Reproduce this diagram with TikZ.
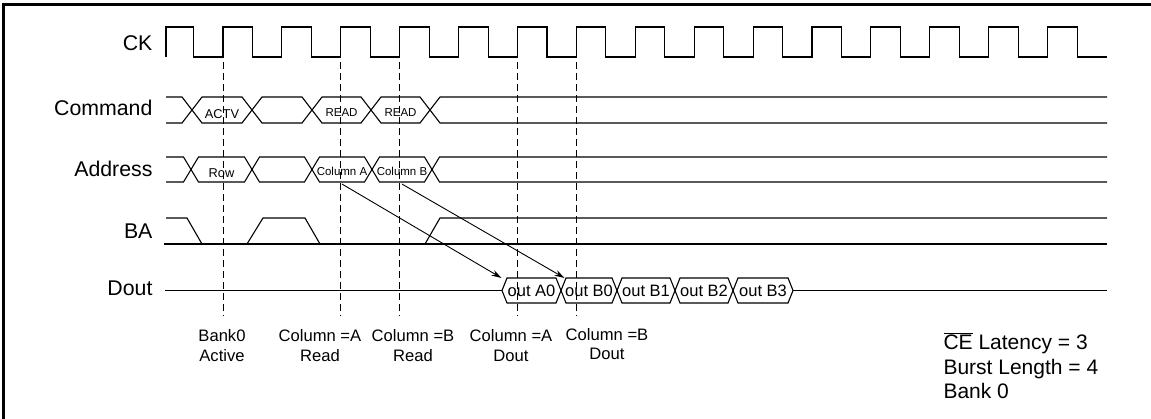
\documentclass[tikz,border=0pt]{standalone}
\usepackage{fontspec}
\setmainfont{Liberation Sans}
\usetikzlibrary{arrows.meta}

\begin{document}
\begin{tikzpicture}[x=1pt,y=-1pt,line width=1.1pt,
  sig/.style={anchor=east,inner sep=0pt,font=\fontsize{21.3}{24}\selectfont},
  slot/.style={inner sep=0pt,minimum height=25pt},
  tag/.style={slot,font=\fontsize{12.8}{15}\selectfont},
  small/.style={slot,font=\fontsize{11.5}{14}\selectfont},
  outbox/.style={slot,font=\fontsize{16.5}{19}\selectfont},
  note/.style={align=center,inner sep=0pt,font=\fontsize{16.6}{19.5}\selectfont},
  guide/.style={line width=0.9pt,dash pattern=on 7pt off 4pt},
  flow/.style={line width=0.9pt,-{Stealth[length=10pt,width=6pt]}}]

\useasboundingbox (0,0) rectangle (1151,418);
\draw[line width=3pt] (3,4.5) rectangle (1160,425);

\node[sig] (ck) at (153,43) {CK};
\node[sig] (cmd) at (153,108) {Command};
\node[sig] (addr) at (153,168.5) {Address};
\node[sig] (ba) at (153,231) {BA};
\node[sig] (dout) at (153,288) {Dout};

\draw (166,57) -- (166,27) -- (193.5,27) -- (193.5,57)
  \foreach \k in {0,...,14} { -- ({223+58.9*\k},57) -- ({223+58.9*\k},27)
  -- ({252.5+58.9*\k},27) -- ({252.5+58.9*\k},57) } -- (1107,57);

\foreach \k in {0,2,3,5,6}
  \draw[guide] ({223+58.9*\k},62) -- ({223+58.9*\k},316);

\draw (166,97) -- (182,97) -- (192,110) -- (182,123) -- (166,123);
\foreach \a/\b in {192/252,252/312,312/371,371/430}
  \draw (\a,110) -- ({\a+10},97) -- ({\b-10},97) -- (\b,110) -- ({\b-10},123) -- ({\a+10},123) -- cycle;
\draw (1107,97) -- (440,97) -- (430,110) -- (440,123) -- (1107,123);

\node[tag,minimum width=60pt] (actv) at (222,114) {ACTV};
\node[small,minimum width=59pt] (rda) at (341.5,113) {READ};
\node[small,minimum width=59pt] (rdb) at (400.5,113) {READ};

\draw (166,157) -- (183.5,157) -- (191,169.5) -- (183.5,182) -- (166,182);
\foreach \a/\b in {191/252,252/312,312/372,372/432}
  \draw (\a,169.5) -- ({\a+7.5},157) -- ({\b-7.5},157) -- (\b,169.5) -- ({\b-7.5},182) -- ({\a+7.5},182) -- cycle;
\draw (1107,157) -- (439.5,157) -- (432,169.5) -- (439.5,182) -- (1107,182);

\node[tag,minimum width=61pt] (row) at (221.5,173) {Row};
\node[small,minimum width=60pt] (cola) at (342,171) {Column A};
\node[small,minimum width=60pt] (colb) at (402,171) {Column B};

\draw (166,218) -- (187,218) -- (202,244);
\draw (164,244) -- (1107,244);
\draw (247,244) -- (263,218) -- (305,218) -- (320,244);
\draw (425,244) -- (440,218) -- (1107,218);

\draw (165,290.5) -- (502,290.5);
\foreach \a/\b in {502/561,561/617,617/675,675/733,733/793}
  \draw (\a,290.5) -- ({\a+5},278) -- ({\b-5},278) -- (\b,290.5) -- ({\b-5},303) -- ({\a+5},303) -- cycle;
\draw (793,290.5) -- (1107,290.5);

\node[outbox,minimum width=59pt] (outa0) at (531.5,291) {out A0};
\node[outbox,minimum width=56pt] (outb0) at (589,291) {out B0};
\node[outbox,minimum width=58pt] (outb1) at (646,291) {out B1};
\node[outbox,minimum width=58pt] (outb2) at (704,291) {out B2};
\node[outbox,minimum width=60pt] (outb3) at (763,291) {out B3};

\draw[flow] (cola.south) -- (outa0.north west);
\draw[flow] (colb.south) -- ([xshift=4pt]outb0.north west);

\node[note] (bank) at (222,345.5) {Bank0\\Active};
\node[note] (reada) at (320,345.5) {Column =A\\Read};
\node[note] (readb) at (413,345.5) {Column =B\\Read};
\node[note] (douta) at (511,345.5) {Column =A\\Dout};
\node[note] (doutb) at (607,344) {Column =B\\Dout};

\node[anchor=west,align=left,inner sep=0pt,font=\fontsize{21}{24.5}\selectfont] (cfg) at (943,366) {$\overline{\mbox{CE}}$ Latency = 3\\Burst Length = 4\\Bank 0};

\end{tikzpicture}
\end{document}
